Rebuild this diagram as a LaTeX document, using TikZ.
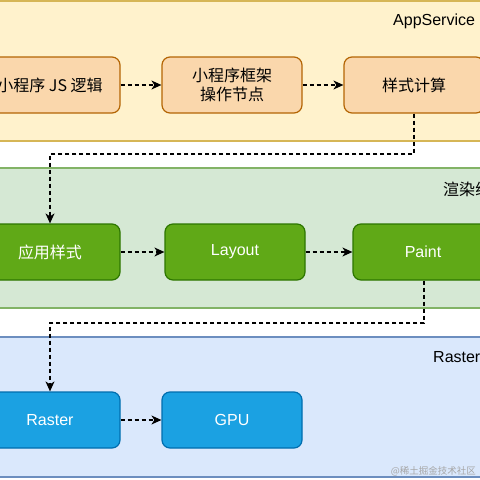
\documentclass[tikz,border=0pt]{standalone}
\usepackage{fontspec}
\setmainfont{Liberation Sans}
\newfontfamily\cjk{Noto Sans CJK SC}
\usetikzlibrary{arrows.meta}
\definecolor{ylfill}{HTML}{FFF2CC}\definecolor{ylline}{HTML}{D6B656}
\definecolor{grfill}{HTML}{D5E8D4}\definecolor{grline}{HTML}{82B366}
\definecolor{blfill}{HTML}{DAE8FC}\definecolor{blline}{HTML}{6C8EBF}
\definecolor{orfill}{HTML}{FAD7AC}\definecolor{orline}{HTML}{B46504}
\definecolor{gnfill}{HTML}{60A917}\definecolor{gnline}{HTML}{2D7600}
\definecolor{bnfill}{HTML}{1BA1E2}\definecolor{bnline}{HTML}{006EAF}
\tikzset{
  lane/.style={line width=1.2pt},
  boxbase/.style={rounded corners=8pt, line width=1.2pt, minimum width=140pt, minimum height=56pt, align=center, inner sep=0pt, font=\fontsize{16}{20}\selectfont},
  orbox/.style={boxbase, fill=orfill, draw=orline, text=black},
  gnbox/.style={boxbase, fill=gnfill, draw=gnline, text=white},
  bnbox/.style={boxbase, fill=bnfill, draw=bnline, text=white},
  lanelabel/.style={anchor=west, inner sep=0pt, font=\fontsize{16}{20}\selectfont},
  flow/.style={dashed, dash pattern=on 4pt off 3pt, line width=1.2pt, -{Stealth[length=10pt,width=9pt,inset=3pt]}}
}
\begin{document}
\begin{tikzpicture}[x=1pt,y=-1pt]
\useasboundingbox (0,0) rectangle (480,480);
\clip (0,0) rectangle (480,480);
\fill[white] (0,0) rectangle (480,480);
% lanes
\draw[lane, fill=ylfill, draw=ylline] (-10,1) rectangle (490,141);
\draw[lane, fill=grfill, draw=grline] (-10,168) rectangle (490,308);
\draw[lane, fill=blfill, draw=blline] (-10,337) rectangle (490,477);
\node[lanelabel] (l1) at (393,21) {AppService};
\node[lanelabel] (l2) at (443,189) {\cjk 渲染线程};
\node[lanelabel] (l3) at (433,357) {Raster};
% nodes
\node[orbox] (a1) at (50,85) {\cjk 小程序 JS 逻辑};
\node[orbox] (a2) at (232,85) {\cjk 小程序框架\\[-1pt]\cjk 操作节点};
\node[orbox] (a3) at (414,85) {\cjk 样式计算};
\node[gnbox] (b1) at (50,252) {\cjk 应用样式};
\node[gnbox] (b2) at (235,252) {Layout};
\node[gnbox] (b3) at (423,252) {Paint};
\node[bnbox] (c1) at (50,420) {Raster};
\node[bnbox] (c2) at (232,420) {GPU};
\node[anchor=east, inner sep=0pt, text=black!35, font=\cjk\fontsize{9.5}{11}\selectfont] (wm) at (476,471) {@稀土掘金技术社区};
% connectors
\draw[flow] (a1) -- (a2);
\draw[flow] (a2) -- (a3);
\draw[flow] (b1) -- (b2);
\draw[flow] (b2) -- (b3);
\draw[flow] (c1) -- (c2);
\draw[flow] (a3.south) -- (414,154) -- (50,154) -- (b1.north);
\draw[flow] ([xshift=1pt]b3.south) -- (424,323) -- (50,323) -- (c1.north);
\end{tikzpicture}
\end{document}
